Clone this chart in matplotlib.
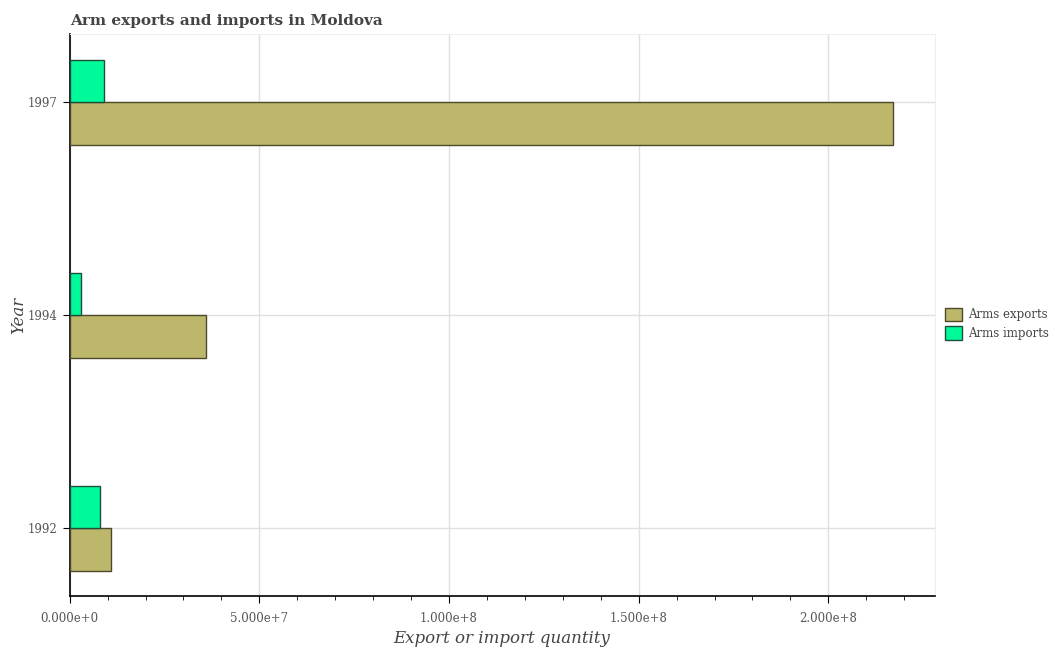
import numpy as np
import matplotlib.pyplot as plt
from matplotlib.ticker import FuncFormatter, MultipleLocator

years = ['1992', '1994', '1997']
arms_exports = [11e6, 36e6, 217e6]
arms_imports = [8e6, 3e6, 9e6]


def sci_fmt(v, pos):
    if v == 0:
        return '0.000e+0'
    exp = int(np.floor(np.log10(abs(v))))
    return '%.3fe+%d' % (v / 10**exp, exp)


def main():
    plt.rcParams['font.family'] = 'DejaVu Serif'
    fig = plt.figure(figsize=(10.56, 6.5), dpi=100)
    ax = fig.add_axes([0.066, 0.0826, 0.819, 0.8646])

    y = np.arange(len(years))
    h = 0.2
    ax.barh(y - h / 2, arms_exports, height=h, color='#bdb76b',
            edgecolor='#4d4a2c', linewidth=1, label='Arms exports', zorder=3)
    ax.barh(y + h / 2, arms_imports, height=h, color='#00fa9a',
            edgecolor='#1f4f3a', linewidth=1, label='Arms imports', zorder=3)

    ax.set_yticks(y)
    ax.set_yticklabels(years)
    ax.set_ylim(-0.32, 2.32)
    ax.set_xlim(0, 2.28e8)
    ax.xaxis.set_major_locator(MultipleLocator(5e7))
    ax.xaxis.set_minor_locator(MultipleLocator(1e7))
    ax.xaxis.set_major_formatter(FuncFormatter(sci_fmt))

    ax.grid(True, color='#e0e0e0', linewidth=1, zorder=0)
    ax.set_axisbelow(True)
    for s in ['top', 'right']:
        ax.spines[s].set_color('#eeeeee')
    for s in ['left', 'bottom']:
        ax.spines[s].set_color('black')
        ax.spines[s].set_linewidth(1.2)
    ax.tick_params(axis='both', which='major', length=5, labelsize=8.5,
                   labelcolor='#555555', pad=4)
    ax.tick_params(axis='x', which='major', pad=6)
    ax.tick_params(axis='x', which='minor', length=3)

    ax.set_title('Arm exports and imports in Moldova', fontsize=11,
                 fontweight='bold', color='#444444', loc='left', x=0.0,
                 pad=7)
    ax.set_xlabel('Export or import quantity', fontsize=12, style='italic',
                  color='#444444', labelpad=4)
    ax.set_ylabel('Year', fontsize=12, style='italic', color='#444444',
                  labelpad=0)

    leg = ax.legend(loc='center left', bbox_to_anchor=(1.0, 0.485),
                    frameon=False, fontsize=8.5, handlelength=1.4,
                    handleheight=1.4, labelspacing=0.4, handletextpad=0.5)
    for t in leg.get_texts():
        t.set_color('#444444')

    fig.savefig('out.png', dpi=100)


if (__name__ == "__main__"):
    main()
